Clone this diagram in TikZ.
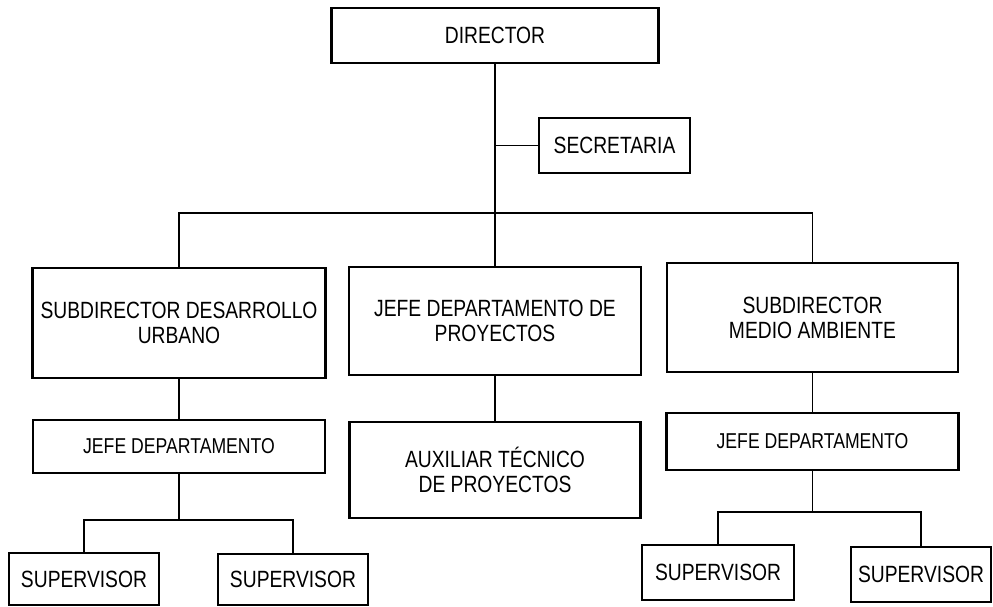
\documentclass[tikz,border=0pt]{standalone}
\usepackage{fontspec}
\setmainfont{Liberation Sans}[FakeStretch=0.82]

\begin{document}
\begin{tikzpicture}[x=1pt,y=-1pt,
		cargo/.style={draw, line width=2.6pt, align=center, inner sep=0pt, font=\fontsize{23.5}{25}\selectfont},
		jefe/.style={cargo, font=\fontsize{21.5}{24}\selectfont},
		linea/.style={line width=1.8pt}]
		\useasboundingbox (0,0) rectangle (993,607);
		\node[cargo, minimum width=327, minimum height=55] (dir) at (495,35.5) {DIRECTOR};
		\node[cargo, minimum width=151, minimum height=55] (sec) at (614.5,145.5) {SECRETARIA};
		\node[cargo, minimum width=293, minimum height=110] (sub1) at (179,323) {SUBDIRECTOR DESARROLLO\\URBANO};
		\node[cargo, minimum width=292, minimum height=108] (proy) at (495,321) {JEFE DEPARTAMENTO DE\\PROYECTOS};
		\node[cargo, minimum width=291, minimum height=109] (sub2) at (812.5,317.5) {SUBDIRECTOR\\MEDIO AMBIENTE};
		\node[jefe, minimum width=292, minimum height=53] (jefe1) at (179,446.5) {JEFE DEPARTAMENTO};
		\node[cargo, minimum width=291, minimum height=96] (aux) at (495,470) {AUXILIAR TÉCNICO\\DE PROYECTOS};
		\node[jefe, minimum width=292, minimum height=57] (jefe2) at (812.5,441.5) {JEFE DEPARTAMENTO};
		\node[cargo, minimum width=150, minimum height=52] (sup1) at (84,579) {SUPERVISOR};
		\node[cargo, minimum width=150, minimum height=51] (sup2) at (293,579.5) {SUPERVISOR};
		\node[cargo, minimum width=152, minimum height=55] (sup3) at (718,572.5) {SUPERVISOR};
		\node[cargo, minimum width=140, minimum height=55] (sup4) at (921,574.5) {SUPERVISOR};
		\coordinate (bus) at (495,213);
		\coordinate (bus1) at (179,520);
		\coordinate (bus2) at (812.5,512);
                \draw[linea] (dir) -- (proy);
                \draw[linea] (sec.west) -- (sec.west -| dir.south);
                \draw[linea] (sub1.north) |- (bus) -| (sub2.north);
                \draw[linea] (sub1) -- (jefe1);
                \draw[linea] (proy) -- (aux);
                \draw[linea] (sub2) -- (jefe2);
                \draw[linea] (jefe1) -- (bus1);
                \draw[linea] (sup1.north) |- (bus1) -| (sup2.north);
                \draw[linea] (jefe2) -- (bus2);
                \draw[linea] (sup3.north) |- (bus2) -| (sup4.north);
		\end{tikzpicture}
\end{document}
